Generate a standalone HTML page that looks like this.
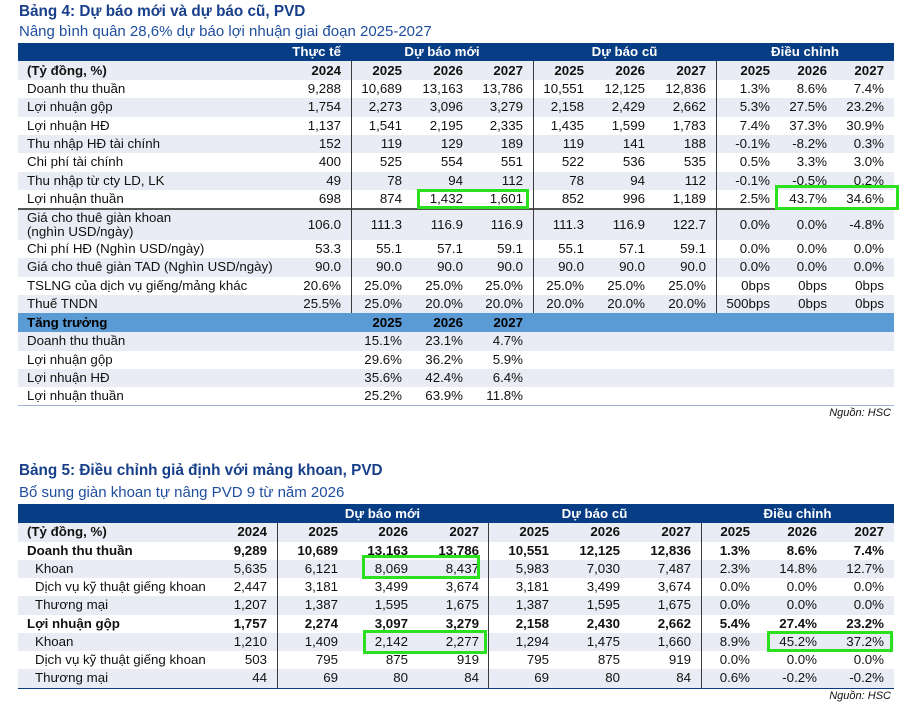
<!DOCTYPE html>
<html><head><meta charset="utf-8">
<style>
html,body{margin:0;padding:0;background:#fff;}
body{width:911px;height:709px;position:relative;overflow:hidden;font-family:"Liberation Sans",Arial,sans-serif;color:#111;}
.t{position:absolute;white-space:nowrap;}
.title{font-weight:bold;font-size:15.3px;line-height:18px;color:#173F8A;left:19px;}
.sub{font-size:15px;line-height:18px;color:#1F4E9E;left:19px;}
.r{position:absolute;left:18px;width:876px;font-size:13.3px;}
.r span{position:absolute;top:0;white-space:nowrap;}
.g{background:#E9ECF4;}
.hb{background:#073D84;color:#fff;font-weight:bold;}
.gh{background:#5B9BD5;font-weight:bold;color:#000;}
.b{font-weight:bold;}
.l{left:9px;}
.li{left:17px;}
.a0{right:553px}.a1{right:492px}.a2{right:431px}.a3{right:371px}.a4{right:310px}.a5{right:249px}.a6{right:188px}.a7{right:124px}.a8{right:67px}.a9{right:10px}
.b0{right:627px}.b1{right:556px}.b2{right:486px}.b3{right:415px}.b4{right:345px}.b5{right:274px}.b6{right:203px}.b7{right:144px}.b8{right:77px}.b9{right:10px}
.c{text-align:center;}
.vl{position:absolute;width:1px;background:#3a3a3a;}
.box{position:absolute;box-sizing:border-box;border:3px solid #2BE01E;z-index:5;}
.src{position:absolute;font-size:11px;font-style:italic;line-height:14px;right:20px;color:#111;}
</style></head><body>

<div class="t title" style="top:2.5px">Bảng 4: Dự báo mới và dự báo cũ, PVD</div>
<div class="t sub" style="top:22.5px">Nâng bình quân 28,6% dự báo lợi nhuận giai đoạn 2025-2027</div>

<!-- Table 1 -->
<div class="r hb" style="top:43px;height:18px;line-height:18px">
<span class="a0">Thực tế</span>
<span class="c" style="left:333px;width:182px">Dự báo mới</span>
<span class="c" style="left:515px;width:183px">Dự báo cũ</span>
<span class="c" style="left:698px;width:178px">Điều chỉnh</span>
</div>
<div class="r g b" style="top:61px;height:19px;line-height:19px"><span class="l">(Tỷ đồng, %)</span><span class="a0">2024</span><span class="a1">2025</span><span class="a2">2026</span><span class="a3">2027</span><span class="a4">2025</span><span class="a5">2026</span><span class="a6">2027</span><span class="a7">2025</span><span class="a8">2026</span><span class="a9">2027</span></div>
<div class="r" style="top:80px;height:18px;line-height:18px"><span class="l">Doanh thu thuần</span><span class="a0">9,288</span><span class="a1">10,689</span><span class="a2">13,163</span><span class="a3">13,786</span><span class="a4">10,551</span><span class="a5">12,125</span><span class="a6">12,836</span><span class="a7">1.3%</span><span class="a8">8.6%</span><span class="a9">7.4%</span></div>
<div class="r g" style="top:98px;height:18.5px;line-height:18.5px"><span class="l">Lợi nhuận gộp</span><span class="a0">1,754</span><span class="a1">2,273</span><span class="a2">3,096</span><span class="a3">3,279</span><span class="a4">2,158</span><span class="a5">2,429</span><span class="a6">2,662</span><span class="a7">5.3%</span><span class="a8">27.5%</span><span class="a9">23.2%</span></div>
<div class="r" style="top:116.5px;height:18.5px;line-height:18.5px"><span class="l">Lợi nhuận HĐ</span><span class="a0">1,137</span><span class="a1">1,541</span><span class="a2">2,195</span><span class="a3">2,335</span><span class="a4">1,435</span><span class="a5">1,599</span><span class="a6">1,783</span><span class="a7">7.4%</span><span class="a8">37.3%</span><span class="a9">30.9%</span></div>
<div class="r g" style="top:135px;height:18px;line-height:18px"><span class="l">Thu nhập HĐ tài chính</span><span class="a0">152</span><span class="a1">119</span><span class="a2">129</span><span class="a3">189</span><span class="a4">119</span><span class="a5">141</span><span class="a6">188</span><span class="a7">-0.1%</span><span class="a8">-8.2%</span><span class="a9">0.3%</span></div>
<div class="r" style="top:153px;height:18.5px;line-height:18.5px"><span class="l">Chi phí tài chính</span><span class="a0">400</span><span class="a1">525</span><span class="a2">554</span><span class="a3">551</span><span class="a4">522</span><span class="a5">536</span><span class="a6">535</span><span class="a7">0.5%</span><span class="a8">3.3%</span><span class="a9">3.0%</span></div>
<div class="r g" style="top:171.5px;height:18.5px;line-height:18.5px"><span class="l">Thu nhập từ cty LD, LK</span><span class="a0">49</span><span class="a1">78</span><span class="a2">94</span><span class="a3">112</span><span class="a4">78</span><span class="a5">94</span><span class="a6">112</span><span class="a7">-0.1%</span><span class="a8">-0.5%</span><span class="a9">0.2%</span></div>
<div class="r" style="top:190px;height:18.5px;line-height:18.5px"><span class="l">Lợi nhuận thuần</span><span class="a0">698</span><span class="a1">874</span><span class="a2">1,432</span><span class="a3">1,601</span><span class="a4">852</span><span class="a5">996</span><span class="a6">1,189</span><span class="a7">2.5%</span><span class="a8">43.7%</span><span class="a9">34.6%</span></div>
<div style="position:absolute;left:18px;width:876px;top:208px;height:1.5px;background:#555;"></div>
<div class="r g" style="top:209.5px;height:30.5px;">
<span class="l" style="top:1px;line-height:14.5px">Giá cho thuê giàn khoan<br>(nghìn USD/ngày)</span>
<span class="a0" style="line-height:30.5px">106.0</span><span class="a1" style="line-height:30.5px">111.3</span><span class="a2" style="line-height:30.5px">116.9</span><span class="a3" style="line-height:30.5px">116.9</span><span class="a4" style="line-height:30.5px">111.3</span><span class="a5" style="line-height:30.5px">116.9</span><span class="a6" style="line-height:30.5px">122.7</span><span class="a7" style="line-height:30.5px">0.0%</span><span class="a8" style="line-height:30.5px">0.0%</span><span class="a9" style="line-height:30.5px">-4.8%</span></div>
<div class="r" style="top:240px;height:18px;line-height:18px"><span class="l">Chi phí HĐ (Nghìn USD/ngày)</span><span class="a0">53.3</span><span class="a1">55.1</span><span class="a2">57.1</span><span class="a3">59.1</span><span class="a4">55.1</span><span class="a5">57.1</span><span class="a6">59.1</span><span class="a7">0.0%</span><span class="a8">0.0%</span><span class="a9">0.0%</span></div>
<div class="r g" style="top:258px;height:18.5px;line-height:18.5px"><span class="l">Giá cho thuê giàn TAD (Nghìn USD/ngày)</span><span class="a0">90.0</span><span class="a1">90.0</span><span class="a2">90.0</span><span class="a3">90.0</span><span class="a4">90.0</span><span class="a5">90.0</span><span class="a6">90.0</span><span class="a7">0.0%</span><span class="a8">0.0%</span><span class="a9">0.0%</span></div>
<div class="r" style="top:276.5px;height:18.5px;line-height:18.5px"><span class="l">TSLNG của dịch vụ giếng/mảng khác</span><span class="a0">20.6%</span><span class="a1">25.0%</span><span class="a2">25.0%</span><span class="a3">25.0%</span><span class="a4">25.0%</span><span class="a5">25.0%</span><span class="a6">25.0%</span><span class="a7">0bps</span><span class="a8">0bps</span><span class="a9">0bps</span></div>
<div class="r g" style="top:295px;height:18px;line-height:18px"><span class="l">Thuế TNDN</span><span class="a0">25.5%</span><span class="a1">25.0%</span><span class="a2">20.0%</span><span class="a3">20.0%</span><span class="a4">20.0%</span><span class="a5">20.0%</span><span class="a6">20.0%</span><span class="a7">500bps</span><span class="a8">0bps</span><span class="a9">0bps</span></div>
<div class="r gh" style="top:313px;height:19px;line-height:19px"><span class="l">Tăng trưởng</span><span class="a1">2025</span><span class="a2">2026</span><span class="a3">2027</span></div>
<div class="r g" style="top:332px;height:18.5px;line-height:18.5px"><span class="l">Doanh thu thuần</span><span class="a1">15.1%</span><span class="a2">23.1%</span><span class="a3">4.7%</span></div>
<div class="r" style="top:350.5px;height:18.5px;line-height:18.5px"><span class="l">Lợi nhuận gộp</span><span class="a1">29.6%</span><span class="a2">36.2%</span><span class="a3">5.9%</span></div>
<div class="r g" style="top:369px;height:18px;line-height:18px"><span class="l">Lợi nhuận HĐ</span><span class="a1">35.6%</span><span class="a2">42.4%</span><span class="a3">6.4%</span></div>
<div class="r" style="top:387px;height:18px;line-height:18px"><span class="l">Lợi nhuận thuần</span><span class="a1">25.2%</span><span class="a2">63.9%</span><span class="a3">11.8%</span></div>
<div style="position:absolute;left:18px;width:876px;top:405px;height:1px;background:#9FB4D2;"></div>

<div class="vl" style="left:351px;top:61px;height:252px"></div>
<div class="vl" style="left:533px;top:61px;height:252px"></div>
<div class="vl" style="left:716px;top:61px;height:252px"></div>

<div class="box" style="left:417px;top:189px;width:112px;height:20px"></div>
<div class="box" style="left:775px;top:185px;width:124px;height:25px"></div>

<div class="src" style="top:406px">Nguồn: HSC</div>

<!-- Table 2 -->
<div class="t title" style="top:461.7px">Bảng 5: Điều chỉnh giả định với mảng khoan, PVD</div>
<div class="t sub" style="top:484px">Bổ sung giàn khoan tự nâng PVD 9 từ năm 2026</div>

<div class="r hb" style="top:504px;height:19px;line-height:19px">
<span class="c" style="left:259px;width:211px">Dự báo mới</span>
<span class="c" style="left:470px;width:213px">Dự báo cũ</span>
<span class="c" style="left:683px;width:193px">Điều chỉnh</span>
</div>
<div class="r g b" style="top:523px;height:18.5px;line-height:18.5px"><span class="l">(Tỷ đồng, %)</span><span class="b0">2024</span><span class="b1">2025</span><span class="b2">2026</span><span class="b3">2027</span><span class="b4">2025</span><span class="b5">2026</span><span class="b6">2027</span><span class="b7">2025</span><span class="b8">2026</span><span class="b9">2027</span></div>
<div class="r b" style="top:541.5px;height:18px;line-height:18px"><span class="l">Doanh thu thuần</span><span class="b0">9,289</span><span class="b1">10,689</span><span class="b2">13,163</span><span class="b3">13,786</span><span class="b4">10,551</span><span class="b5">12,125</span><span class="b6">12,836</span><span class="b7">1.3%</span><span class="b8">8.6%</span><span class="b9">7.4%</span></div>
<div class="r g" style="top:559.5px;height:18.5px;line-height:18.5px"><span class="li">Khoan</span><span class="b0">5,635</span><span class="b1">6,121</span><span class="b2">8,069</span><span class="b3">8,437</span><span class="b4">5,983</span><span class="b5">7,030</span><span class="b6">7,487</span><span class="b7">2.3%</span><span class="b8">14.8%</span><span class="b9">12.7%</span></div>
<div class="r" style="top:578px;height:18px;line-height:18px"><span class="li">Dịch vụ kỹ thuật giếng khoan</span><span class="b0">2,447</span><span class="b1">3,181</span><span class="b2">3,499</span><span class="b3">3,674</span><span class="b4">3,181</span><span class="b5">3,499</span><span class="b6">3,674</span><span class="b7">0.0%</span><span class="b8">0.0%</span><span class="b9">0.0%</span></div>
<div class="r g" style="top:596px;height:18.5px;line-height:18.5px"><span class="li">Thương mại</span><span class="b0">1,207</span><span class="b1">1,387</span><span class="b2">1,595</span><span class="b3">1,675</span><span class="b4">1,387</span><span class="b5">1,595</span><span class="b6">1,675</span><span class="b7">0.0%</span><span class="b8">0.0%</span><span class="b9">0.0%</span></div>
<div class="r b" style="top:614.5px;height:18px;line-height:18px"><span class="l">Lợi nhuận gộp</span><span class="b0">1,757</span><span class="b1">2,274</span><span class="b2">3,097</span><span class="b3">3,279</span><span class="b4">2,158</span><span class="b5">2,430</span><span class="b6">2,662</span><span class="b7">5.4%</span><span class="b8">27.4%</span><span class="b9">23.2%</span></div>
<div class="r g" style="top:632.5px;height:18.5px;line-height:18.5px"><span class="li">Khoan</span><span class="b0">1,210</span><span class="b1">1,409</span><span class="b2">2,142</span><span class="b3">2,277</span><span class="b4">1,294</span><span class="b5">1,475</span><span class="b6">1,660</span><span class="b7">8.9%</span><span class="b8">45.2%</span><span class="b9">37.2%</span></div>
<div class="r" style="top:651px;height:18px;line-height:18px"><span class="li">Dịch vụ kỹ thuật giếng khoan</span><span class="b0">503</span><span class="b1">795</span><span class="b2">875</span><span class="b3">919</span><span class="b4">795</span><span class="b5">875</span><span class="b6">919</span><span class="b7">0.0%</span><span class="b8">0.0%</span><span class="b9">0.0%</span></div>
<div class="r g" style="top:669px;height:18.5px;line-height:18.5px"><span class="li">Thương mại</span><span class="b0">44</span><span class="b1">69</span><span class="b2">80</span><span class="b3">84</span><span class="b4">69</span><span class="b5">80</span><span class="b6">84</span><span class="b7">0.6%</span><span class="b8">-0.2%</span><span class="b9">-0.2%</span></div>
<div style="position:absolute;left:18px;width:876px;top:687.5px;height:1.5px;background:#0B3C82;"></div>

<div class="vl" style="left:277px;top:523px;height:165px"></div>
<div class="vl" style="left:488px;top:523px;height:165px"></div>
<div class="vl" style="left:701px;top:523px;height:165px"></div>

<div class="box" style="left:362px;top:555px;width:118px;height:24px"></div>
<div class="box" style="left:363px;top:630px;width:124px;height:24px"></div>
<div class="box" style="left:767px;top:631px;width:126px;height:21px"></div>

<div class="src" style="top:688.5px">Nguồn: HSC</div>

</body></html>
